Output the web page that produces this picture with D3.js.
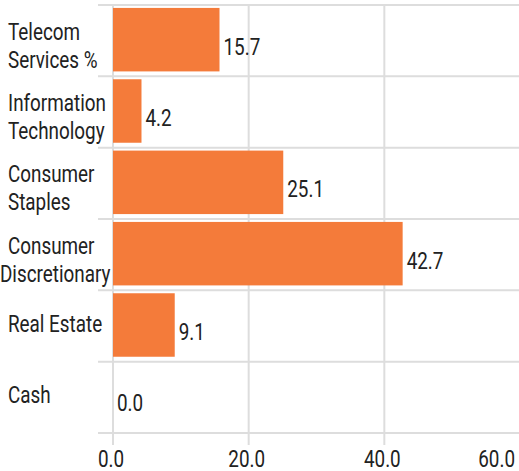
<!DOCTYPE html>
<html>
<head>
<meta charset="utf-8">
<script src="https://cdn.jsdelivr.net/npm/d3@7"></script>
<style>
  body { margin: 0; background: #fff; }
  text { font-family: Roboto, "Liberation Sans", sans-serif; fill: #222; }
</style>
</head>
<body>
<div id="chart"></div>
<script>
// sector weights
var categories = [
  ["Telecom", "Services %"],
  ["Information", "Technology"],
  ["Consumer", "Staples"],
  ["Consumer", "Discretionary"],
  ["Real Estate"],
  ["Cash"]
];
var values = [15.7, 4.2, 25.1, 42.7, 9.1, 0.0];
var tickValues = [0, 20, 40, 60];

var w = 519;
var h = 471;
var squeeze = 0.82;   // narrow the font horizontally
var fontSize = 23;

var names = categories.map(function(c) { return c.join(" "); });

var svg = d3.select("#chart")
            .append("svg")
            .attr("width", w)
            .attr("height", h);

var xScale = d3.scaleLinear()
               .domain([0, 60])
               .range([113, 520]);

var yScale = d3.scaleBand()
               .domain(names)
               .range([4, 432])
               .paddingInner(0.11)
               .paddingOuter(0.055);

var step = yScale.step();
var top0 = 4;

// helper: text squeezed horizontally
function narrowText(g, x, y, str, anchor) {
    var t = g.append("text")
             .attr("font-size", fontSize)
             .attr("text-anchor", anchor || "start")
             .text(str);
    t.attr("transform", "translate(" + x + "," + y + ") scale(" + squeeze + ",1)");
    return t;
}
function textWidth(t) {
    return t.node().getComputedTextLength() * squeeze;
}

// horizontal grid lines at band boundaries
svg.append("g")
   .selectAll("line")
   .data(d3.range(names.length + 1))
   .enter()
   .append("line")
   .attr("x1", 98)
   .attr("x2", w)
   .attr("y1", function(i) { return top0 + 1 + i * step; })
   .attr("y2", function(i) { return top0 + 1 + i * step; })
   .attr("stroke", "#dddddd")
   .attr("stroke-width", 2);

// vertical grid lines
svg.append("g")
   .selectAll("line")
   .data(tickValues)
   .enter()
   .append("line")
   .attr("x1", function(d) { return xScale(d); })
   .attr("x2", function(d) { return xScale(d); })
   .attr("y1", top0)
   .attr("y2", 445)
   .attr("stroke", "#dddddd")
   .attr("stroke-width", 2);

// bars
svg.append("g")
   .selectAll("rect")
   .data(values)
   .enter()
   .append("rect")
   .attr("x", xScale(0))
   .attr("y", function(d, i) { return yScale(names[i]); })
   .attr("width", function(d) { return xScale(d) - xScale(0); })
   .attr("height", yScale.bandwidth())
   .attr("fill", "#f47b3a");

// value labels
var valueG = svg.append("g");
values.forEach(function(d, i) {
    narrowText(valueG, xScale(d) + 4, top0 + (i + 0.5) * step + 15, d.toFixed(1));
});

// category labels, left aligned, pulled left if too long
var catG = svg.append("g");
categories.forEach(function(lines, i) {
    var c = top0 + (i + 0.5) * step;
    var y0 = lines.length > 1 ? c : c + 7;
    lines.forEach(function(s, j) {
        var t = narrowText(catG, 8, y0 + j * 28, s);
        var len = textWidth(t);
        var x = Math.max(0, Math.min(8, 110 - len));
        t.attr("transform", "translate(" + x + "," + (y0 + j * 28) + ") scale(" + squeeze + ",1)");
    });
});

// x axis tick labels
var tickG = svg.append("g");
tickValues.forEach(function(d) {
    var t = narrowText(tickG, xScale(d) - 2, 467, d.toFixed(1), "middle");
    var half = textWidth(t) / 2;
    var x = Math.min(xScale(d) - 2, w - 4 - half);
    t.attr("transform", "translate(" + x + ",467) scale(" + squeeze + ",1)");
});
</script>
</body>
</html>
